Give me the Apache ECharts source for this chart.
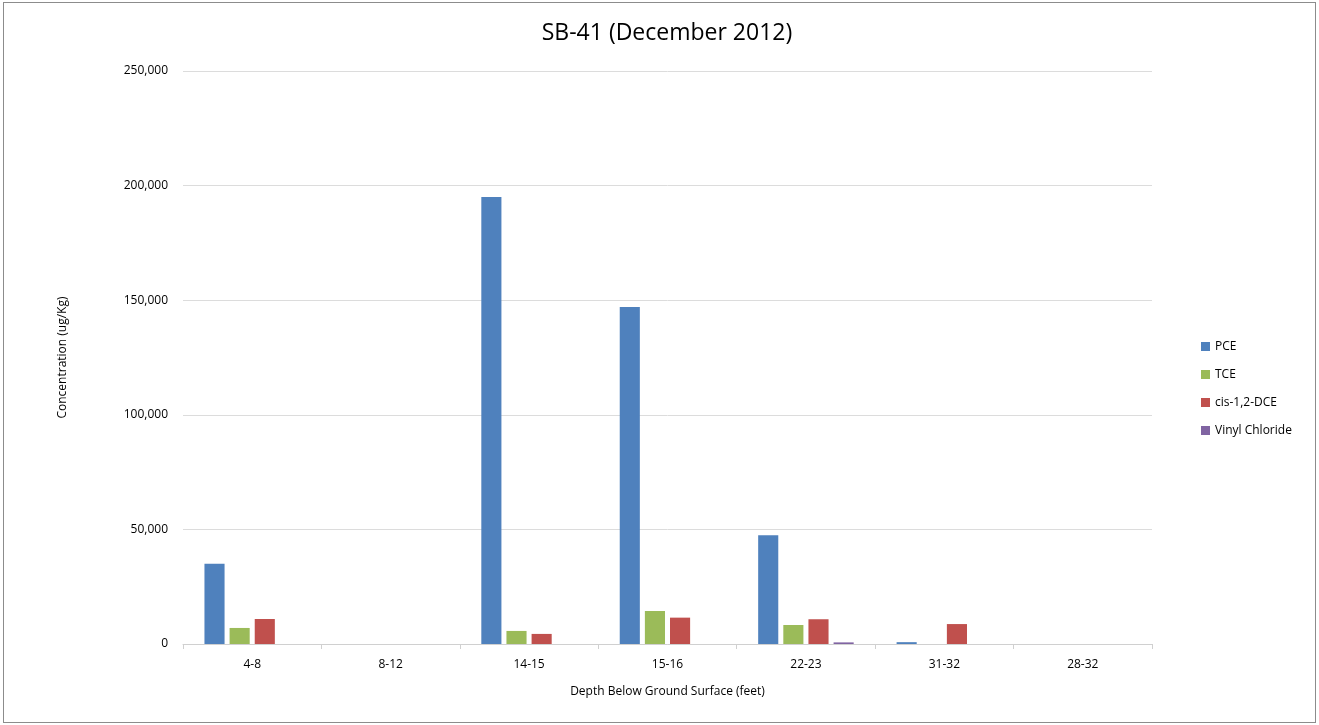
<!DOCTYPE html>
<html>
<head>
<meta charset="utf-8">
<script src="https://cdn.jsdelivr.net/npm/echarts@6/dist/echarts.min.js"></script>
<style>
html,body{margin:0;padding:0;background:#fff;}
#frame{position:absolute;left:3px;top:2px;width:1311px;height:719px;border:1px solid #8c8c8c;}
#chart{position:absolute;left:0;top:0;width:1319px;height:725px;}
</style>
</head>
<body>
<div id="frame"></div>
<div id="chart"></div>
<script>
const categories = ['4-8', '8-12', '14-15', '15-16', '22-23', '31-32', '28-32'];
const pce = [35000, 0, 195000, 147000, 47500, 800, 0];
const tce = [7000, 0, 5700, 14400, 8300, 0, 0];
const cisDCE = [10900, 0, 4400, 11500, 10800, 8700, 0];
const vinylChloride = [0, 0, 0, 0, 700, 0, 0];
const yTicks = [0, 50000, 100000, 150000, 200000, 250000];

const font = '"Open Sans", "Liberation Sans", sans-serif';
const chart = echarts.init(document.getElementById('chart'));
function mk(name, data, color) {
  return {
    name, type: 'bar', data,
    barGap: '25%', barCategoryGap: '31%',
    itemStyle: { color },
    emphasis: { disabled: true }
  };
}
chart.setOption({
  animation: false,
  title: {
    text: 'SB-41 (December 2012)',
    left: 662, top: 17, textAlign: 'center',
    textStyle: { fontFamily: font, fontSize: 23, fontWeight: 'normal', color: '#000' }
  },
  legend: {
    orient: 'vertical', left: 1196, top: 333,
    itemWidth: 9, itemHeight: 9, itemGap: 11,
    icon: 'rect',
    textStyle: { fontFamily: font, fontSize: 12, color: '#000', lineHeight: 17 },
    data: ['PCE', 'TCE', 'cis-1,2-DCE', 'Vinyl Chloride']
  },
  grid: { left: 183, right: 167, top: 71, bottom: 81 },
  xAxis: {
    type: 'category', data: categories,
    name: 'Depth Below Ground Surface (feet)', nameLocation: 'middle', nameGap: 42,
    nameTextStyle: { fontFamily: font, fontSize: 12, color: '#000' },
    axisLine: { lineStyle: { color: '#d0d0d0', width: 1 } },
    axisTick: { show: true, length: 5, lineStyle: { color: '#d0d0d0' } },
    axisLabel: { fontFamily: font, fontSize: 12, color: '#000', margin: 15 }
  },
  yAxis: {
    type: 'value', min: 0, max: 250000, interval: 50000,
    name: 'Concentration (ug/Kg)', nameLocation: 'middle', nameGap: 114,
    nameTextStyle: { fontFamily: font, fontSize: 12, color: '#000' },
    axisLine: { show: false },
    axisTick: { show: false },
    splitLine: { lineStyle: { color: '#dcdcdc' } },
    axisLabel: {
      fontFamily: font, fontSize: 12, color: '#000', margin: 15,
      formatter: v => yTicks.includes(v) ? v.toLocaleString('en-US') : ''
    }
  },
  series: [
    mk('PCE', pce, '#4f81bd'),
    mk('TCE', tce, '#9bbb59'),
    mk('cis-1,2-DCE', cisDCE, '#c0504d'),
    mk('Vinyl Chloride', vinylChloride, '#8064a2')
  ]
});
</script>
</body>
</html>
